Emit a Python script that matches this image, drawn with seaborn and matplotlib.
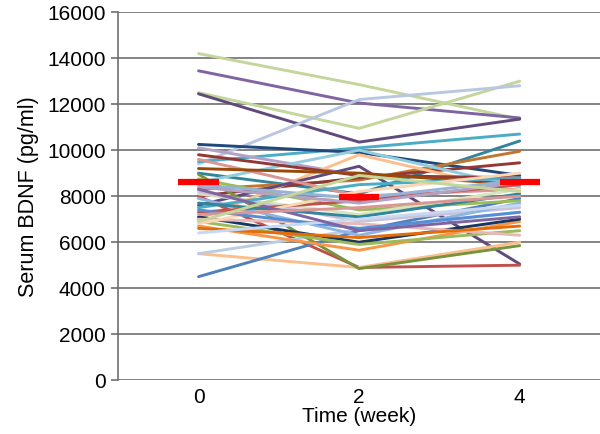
import pandas as pd
import seaborn as sns
import matplotlib
matplotlib.use('Agg')
import matplotlib.pyplot as plt

# time points (weeks) and per-subject serum BDNF values (pg/ml)
weeks = ['0', '2', '4']
week0 = [14200, 13450, 12500, 12450, 9400, 9500, 9000, 10250, 8300, 8000,
         10100, 7000, 8600, 7600, 8000, 5500, 5500, 4500, 8950, 6700,
         9800, 9600, 9200, 8750, 8100, 8200, 7900, 7300, 7100, 6900,
         7500, 7000, 6800, 7400, 6600, 8400, 7700, 6400, 8500, 8300,
         7200, 6900]
week2 = [12850, 12050, 10950, 10350, 12200, 10100, 8100, 9900, 8700, 8800,
         8900, 9800, 10000, 9300, 4900, 4900, 6550, 6500, 4850, 5650,
         8900, 8000, 9000, 7400, 7200, 6900, 6300, 7800, 6000, 5900,
         8500, 6800, 8200, 6600, 6200, 7700, 7100, 7000, 7900, 6500,
         7500, 8900]
week4 = [11350, 11400, 13000, 11350, 12800, 10700, 10400, 8900, 9950, 9450,
         8700, 8200, 8400, 5050, 5000, 6000, 7300, 7900, 5850, 6900,
         8800, 8300, 8500, 7800, 8300, 7500, 7700, 8500, 7000, 6500,
         8800, 6300, 9000, 7300, 6700, 8600, 8100, 7600, 8700, 7100,
         8000, 8200]
means = [8600, 7950, 8600]

colors = ['#C3D69B', '#8064A2', '#C3D69B', '#604A7B', '#B9C7E0', '#4BACC6',
          '#31859C', '#1F497D', '#C0762E', '#953735', '#B3A2C7', '#FAC090',
          '#93CDDD', '#604A7B', '#C0504D', '#FABF8F', '#B9CDE5', '#4F81BD',
          '#77933C', '#F79646', '#943634', '#D99694', '#984807', '#9BBB59',
          '#D7E4BD', '#CCC1DA', '#8EB4E3', '#C0504D', '#17375E', '#9BBB59',
          '#4BACC6', '#E6B9B8', '#FCD5B5', '#558ED5', '#E46C0A', '#B3A2C7',
          '#31859C', '#C6D9F1', '#95B3D7', '#8064A2', '#D99694', '#C4D79B']

rows = []
for i in range(len(week0)):
    for j, vals in enumerate([week0, week2, week4]):
        rows.append({'subject': 's%d' % i, 'pos': j, 'bdnf': vals[i]})
df = pd.DataFrame(rows)

sns.set_style('white')
plt.rcParams['font.family'] = ['Liberation Sans', 'DejaVu Sans']
plt.rcParams['text.color'] = 'black'
plt.rcParams['axes.labelcolor'] = 'black'
plt.rcParams['xtick.color'] = 'black'
plt.rcParams['ytick.color'] = 'black'

fig = plt.figure(figsize=(6, 4.34), dpi=100)
ax = fig.add_axes([0.197, 0.124, 0.803, 0.848])

sns.lineplot(data=df, x='pos', y='bdnf', hue='subject', palette=colors,
             legend=False, linewidth=2.1, ax=ax)

ax.hlines(means, [p - 0.125 for p in range(3)], [p + 0.125 for p in range(3)],
          color='#FF0000', linewidth=4.5, zorder=5)

ax.set_xlim(-0.5, 2.5)
ax.set_ylim(0, 16000)
ax.set_yticks(range(0, 16001, 2000))
ax.set_xticks(range(3))
ax.set_xticklabels(weeks)
ax.yaxis.grid(True, color='#6E6E6E', linewidth=1.2)
ax.set_axisbelow(True)
for s in ['top', 'right', 'bottom']:
    ax.spines[s].set_visible(False)
ax.spines['left'].set_color('#6E6E6E')
ax.spines['left'].set_linewidth(1.2)
ax.tick_params(axis='y', left=True, length=5, width=1.2, color='#6E6E6E',
               labelcolor='black', labelsize=15, pad=4)
ax.tick_params(axis='x', bottom=False, labelcolor='black', labelsize=15, pad=2)
ax.set_xlabel('Time (week)', fontsize=15, labelpad=0)
ax.set_ylabel('Serum BDNF (pg/ml)', fontsize=15.5, labelpad=6)

fig.savefig('out.png', dpi=100)
